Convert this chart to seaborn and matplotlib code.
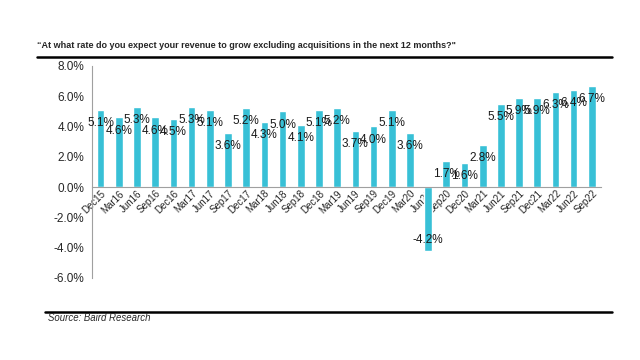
import numpy as np
import pandas as pd
import matplotlib
matplotlib.use("Agg")
import matplotlib.pyplot as plt
from matplotlib.lines import Line2D
from matplotlib.ticker import FixedLocator
import seaborn as sns

quarters = ["Dec15", "Mar16", "Jun16", "Sep16", "Dec16", "Mar17", "Jun17", "Sep17",
            "Dec17", "Mar18", "Jun18", "Sep18", "Dec18", "Mar19", "Jun19", "Sep19",
            "Dec19", "Mar20", "Jun20", "Sep20", "Dec20", "Mar21", "Jun21", "Sep21",
            "Dec21", "Mar22", "Jun22", "Sep22"]
growth = [5.1, 4.6, 5.3, 4.6, 4.5, 5.3, 5.1, 3.6, 5.2, 4.3, 5.0, 4.1, 5.1, 5.2,
          3.7, 4.0, 5.1, 3.6, -4.2, 1.7, 1.6, 2.8, 5.5, 5.9, 5.9, 6.3, 6.4, 6.7]
yticks = [-6, -4, -2, 0, 2, 4, 6, 8]

title = "\u201cAt what rate do you expect your revenue to grow excluding acquisitions in the next 12 months?\""
source = "Source: Baird Research"

sns.set_style("white")
plt.rcParams['font.family'] = ['Liberation Sans', 'DejaVu Sans']

df = pd.DataFrame({"quarter": quarters, "growth": growth})

fig = plt.figure(figsize=(6.4, 3.6), dpi=100)
ax = fig.add_axes([0.143, 0.228, 0.796, 0.589])

sns.barplot(data=df, x="quarter", y="growth", color="#38C0D6", saturation=1,
            width=0.42, ax=ax)

ax.set_xlim(-0.5, len(quarters) - 0.5)
ax.set_ylim(-6, 8)
ax.set_yticks(yticks)
ax.set_yticklabels([f"{v:.1f}%" for v in yticks], fontsize=8.5)
ax.set_xlabel("")
ax.set_ylabel("")

# x axis crosses at zero, category labels hang from it
ax.spines["bottom"].set_position(("data", 0))
for s in ["top", "right"]:
    ax.spines[s].set_visible(False)
ax.spines["left"].set_color("#A0A0A0")
ax.spines["bottom"].set_color("#A0A0A0")
ax.tick_params(axis="y", length=3, color="#A0A0A0", direction="out", pad=2)
ax.tick_params(axis="x", which="major", length=0, pad=1)
ax.xaxis.set_minor_locator(FixedLocator(np.arange(-0.5, len(quarters), 1)))
ax.tick_params(axis="x", which="minor", length=3, color="#A0A0A0", direction="out")
plt.setp(ax.get_xticklabels(), rotation=45, ha="right", rotation_mode="anchor", fontsize=7)

for i, v in enumerate(growth):
    off = -9.5 if v >= 0 else 7.5
    ax.annotate(f"{v:.1f}%", (i, v), xytext=(0, off), textcoords="offset points",
                ha="center", va="center", fontsize=8.5, color="#1A1A1A")

fig.text(0.058, 0.875, title, fontsize=6.5, fontweight="bold", ha="left", va="center")
fig.add_artist(Line2D([0.058, 0.956], [0.842, 0.842], color="black", lw=1.8))
fig.add_artist(Line2D([0.07, 0.956], [0.134, 0.134], color="black", lw=1.8))
fig.text(0.075, 0.117, source, fontsize=6.9, fontstyle="italic", ha="left", va="center")

fig.savefig("out.png", dpi=100)
